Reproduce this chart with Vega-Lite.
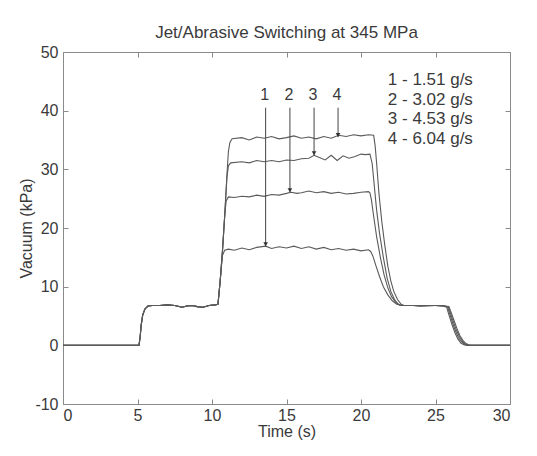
{
  "$schema": "https://vega.github.io/schema/vega-lite/v6.json",
  "width": 447,
  "height": 352,
  "autosize": "none",
  "padding": {"left": 63, "top": 52, "right": 27, "bottom": 52},
  "background": "white",
  "config": {
    "view": {"stroke": "#8a8a8a", "strokeWidth": 1},
    "font": "Liberation Sans",
    "text": {"font": "Liberation Sans"}
  },
  "title": {
    "text": "Jet/Abrasive Switching at 345 MPa",
    "fontSize": 17,
    "fontWeight": "normal",
    "color": "#3a3a3a",
    "font": "Liberation Sans",
    "offset": 2
  },
  "datasets": {
    "curves": [
      {"c":4,"t":0,"v":0},{"c":4,"t":5.1,"v":0},{"c":4,"t":5.18,"v":1.5},{"c":4,"t":5.25,"v":3.5},{"c":4,"t":5.35,"v":5.2},{"c":4,"t":5.5,"v":6.2},{"c":4,"t":5.7,"v":6.7},{"c":4,"t":6.0,"v":6.8},{"c":4,"t":6.5,"v":6.8},{"c":4,"t":7.0,"v":6.9},{"c":4,"t":7.5,"v":6.8},{"c":4,"t":8.0,"v":6.5},{"c":4,"t":8.3,"v":6.7},{"c":4,"t":8.7,"v":6.8},{"c":4,"t":9.0,"v":6.6},{"c":4,"t":9.4,"v":6.5},{"c":4,"t":9.8,"v":6.8},{"c":4,"t":10.2,"v":6.9},{"c":4,"t":10.4,"v":7.0},{"c":4,"t":10.55,"v":11},{"c":4,"t":10.7,"v":16},
      {"c":4,"t":10.85,"v":22},{"c":4,"t":11.0,"v":29},{"c":4,"t":11.1,"v":33},{"c":4,"t":11.2,"v":34.6},{"c":4,"t":11.35,"v":35.2},{"c":4,"t":12,"v":35.4},{"c":4,"t":12.5,"v":35.0},{"c":4,"t":13,"v":35.5},{"c":4,"t":13.5,"v":35.3},{"c":4,"t":14,"v":35.6},{"c":4,"t":14.5,"v":35.2},{"c":4,"t":15,"v":35.4},{"c":4,"t":15.5,"v":35.7},{"c":4,"t":16,"v":35.3},{"c":4,"t":16.5,"v":35.5},{"c":4,"t":17,"v":35.2},{"c":4,"t":17.5,"v":35.6},{"c":4,"t":18,"v":35.3},{"c":4,"t":18.5,"v":35.8},{"c":4,"t":19,"v":35.6},{"c":4,"t":19.5,"v":35.9},{"c":4,"t":20,"v":35.7},{"c":4,"t":20.5,"v":35.9},{"c":4,"t":20.85,"v":35.8},
      {"c":4,"t":20.95,"v":34},{"c":4,"t":21.05,"v":31},{"c":4,"t":21.2,"v":26},{"c":4,"t":21.4,"v":21},{"c":4,"t":21.6,"v":17},{"c":4,"t":21.8,"v":13.5},{"c":4,"t":22.0,"v":11},{"c":4,"t":22.2,"v":9.2},{"c":4,"t":22.45,"v":7.8},{"c":4,"t":22.7,"v":7.0},{"c":4,"t":22.9,"v":6.8},{"c":4,"t":23.5,"v":6.8},{"c":4,"t":24,"v":6.7},{"c":4,"t":24.5,"v":6.8},{"c":4,"t":25,"v":6.8},{"c":4,"t":25.5,"v":6.7},{"c":4,"t":25.9,"v":6.6},{"c":4,"t":26.05,"v":5.6},{"c":4,"t":26.25,"v":4.2},{"c":4,"t":26.45,"v":2.8},{"c":4,"t":26.65,"v":1.6},{"c":4,"t":26.85,"v":0.8},{"c":4,"t":27.05,"v":0.3},{"c":4,"t":27.3,"v":0},{"c":4,"t":30,"v":0},

      {"c":3,"t":0,"v":0},{"c":3,"t":5.1,"v":0},{"c":3,"t":5.18,"v":1.5},{"c":3,"t":5.25,"v":3.5},{"c":3,"t":5.35,"v":5.2},{"c":3,"t":5.5,"v":6.2},{"c":3,"t":5.7,"v":6.7},{"c":3,"t":6.0,"v":6.8},{"c":3,"t":6.5,"v":6.8},{"c":3,"t":7.0,"v":6.9},{"c":3,"t":7.5,"v":6.8},{"c":3,"t":8.0,"v":6.5},{"c":3,"t":8.3,"v":6.7},{"c":3,"t":8.7,"v":6.8},{"c":3,"t":9.0,"v":6.6},{"c":3,"t":9.4,"v":6.5},{"c":3,"t":9.8,"v":6.8},{"c":3,"t":10.2,"v":6.9},{"c":3,"t":10.4,"v":7.0},{"c":3,"t":10.55,"v":11},{"c":3,"t":10.7,"v":16},
      {"c":3,"t":10.85,"v":22},{"c":3,"t":11.0,"v":28.5},{"c":3,"t":11.1,"v":30.6},{"c":3,"t":11.25,"v":31.1},{"c":3,"t":12,"v":31.3},{"c":3,"t":12.5,"v":31.1},{"c":3,"t":13,"v":31.5},{"c":3,"t":13.5,"v":31.3},{"c":3,"t":14,"v":31.5},{"c":3,"t":14.5,"v":31.3},{"c":3,"t":15,"v":31.6},{"c":3,"t":15.5,"v":31.5},{"c":3,"t":16,"v":31.8},{"c":3,"t":16.5,"v":31.9},{"c":3,"t":16.85,"v":32.4},{"c":3,"t":17.2,"v":32.0},{"c":3,"t":17.6,"v":31.6},{"c":3,"t":18.0,"v":32.4},{"c":3,"t":18.4,"v":31.5},{"c":3,"t":18.8,"v":32.3},{"c":3,"t":19.2,"v":31.9},{"c":3,"t":19.6,"v":32.2},{"c":3,"t":20,"v":32.6},{"c":3,"t":20.3,"v":32.5},{"c":3,"t":20.6,"v":32.6},
      {"c":3,"t":20.75,"v":31},{"c":3,"t":20.9,"v":27},{"c":3,"t":21.05,"v":23},{"c":3,"t":21.25,"v":19},{"c":3,"t":21.5,"v":15},{"c":3,"t":21.75,"v":11.5},{"c":3,"t":22.0,"v":9.2},{"c":3,"t":22.25,"v":7.8},{"c":3,"t":22.5,"v":7.0},{"c":3,"t":22.75,"v":6.8},{"c":3,"t":23.5,"v":6.8},{"c":3,"t":24,"v":6.8},{"c":3,"t":24.5,"v":6.7},{"c":3,"t":25,"v":6.8},{"c":3,"t":25.5,"v":6.8},{"c":3,"t":25.85,"v":6.6},{"c":3,"t":26.0,"v":5.5},{"c":3,"t":26.2,"v":4.0},{"c":3,"t":26.4,"v":2.6},{"c":3,"t":26.6,"v":1.5},{"c":3,"t":26.8,"v":0.7},{"c":3,"t":27.0,"v":0.2},{"c":3,"t":27.2,"v":0},{"c":3,"t":30,"v":0},

      {"c":2,"t":0,"v":0},{"c":2,"t":5.1,"v":0},{"c":2,"t":5.18,"v":1.5},{"c":2,"t":5.25,"v":3.5},{"c":2,"t":5.35,"v":5.2},{"c":2,"t":5.5,"v":6.2},{"c":2,"t":5.7,"v":6.7},{"c":2,"t":6.0,"v":6.8},{"c":2,"t":6.5,"v":6.8},{"c":2,"t":7.0,"v":6.9},{"c":2,"t":7.5,"v":6.8},{"c":2,"t":8.0,"v":6.5},{"c":2,"t":8.3,"v":6.7},{"c":2,"t":8.7,"v":6.8},{"c":2,"t":9.0,"v":6.6},{"c":2,"t":9.4,"v":6.5},{"c":2,"t":9.8,"v":6.8},{"c":2,"t":10.2,"v":6.9},{"c":2,"t":10.4,"v":7.0},{"c":2,"t":10.55,"v":11},{"c":2,"t":10.7,"v":16},
      {"c":2,"t":10.85,"v":22},{"c":2,"t":10.95,"v":24.6},{"c":2,"t":11.1,"v":25.3},{"c":2,"t":11.5,"v":25.2},{"c":2,"t":12,"v":25.4},{"c":2,"t":12.5,"v":25.3},{"c":2,"t":13,"v":25.6},{"c":2,"t":13.5,"v":25.4},{"c":2,"t":14,"v":25.7},{"c":2,"t":14.5,"v":25.6},{"c":2,"t":15,"v":25.9},{"c":2,"t":15.3,"v":26.1},{"c":2,"t":15.7,"v":25.9},{"c":2,"t":16,"v":26.0},{"c":2,"t":16.5,"v":26.3},{"c":2,"t":17,"v":26.0},{"c":2,"t":17.5,"v":26.2},{"c":2,"t":18,"v":25.9},{"c":2,"t":18.5,"v":26.1},{"c":2,"t":19,"v":25.8},{"c":2,"t":19.5,"v":25.9},{"c":2,"t":20,"v":26.1},{"c":2,"t":20.5,"v":26.2},{"c":2,"t":20.6,"v":26.0},
      {"c":2,"t":20.7,"v":24.8},{"c":2,"t":20.85,"v":22},{"c":2,"t":21.05,"v":18.5},{"c":2,"t":21.3,"v":15},{"c":2,"t":21.55,"v":12},{"c":2,"t":21.8,"v":9.8},{"c":2,"t":22.05,"v":8.3},{"c":2,"t":22.35,"v":7.3},{"c":2,"t":22.65,"v":6.8},{"c":2,"t":23.5,"v":6.8},{"c":2,"t":24,"v":6.7},{"c":2,"t":24.5,"v":6.8},{"c":2,"t":25,"v":6.8},{"c":2,"t":25.5,"v":6.7},{"c":2,"t":25.8,"v":6.6},{"c":2,"t":25.95,"v":5.4},{"c":2,"t":26.15,"v":3.8},{"c":2,"t":26.35,"v":2.4},{"c":2,"t":26.55,"v":1.3},{"c":2,"t":26.75,"v":0.6},{"c":2,"t":26.95,"v":0.2},{"c":2,"t":27.15,"v":0},{"c":2,"t":30,"v":0},

      {"c":1,"t":0,"v":0},{"c":1,"t":5.1,"v":0},{"c":1,"t":5.18,"v":1.5},{"c":1,"t":5.25,"v":3.5},{"c":1,"t":5.35,"v":5.2},{"c":1,"t":5.5,"v":6.2},{"c":1,"t":5.7,"v":6.7},{"c":1,"t":6.0,"v":6.8},{"c":1,"t":6.5,"v":6.8},{"c":1,"t":7.0,"v":6.9},{"c":1,"t":7.5,"v":6.8},{"c":1,"t":8.0,"v":6.5},{"c":1,"t":8.3,"v":6.7},{"c":1,"t":8.7,"v":6.8},{"c":1,"t":9.0,"v":6.6},{"c":1,"t":9.4,"v":6.5},{"c":1,"t":9.8,"v":6.8},{"c":1,"t":10.2,"v":6.9},{"c":1,"t":10.4,"v":7.0},{"c":1,"t":10.55,"v":11},{"c":1,"t":10.7,"v":15.3},
      {"c":1,"t":10.85,"v":16.2},{"c":1,"t":11.1,"v":16.4},{"c":1,"t":11.5,"v":16.2},{"c":1,"t":12,"v":16.6},{"c":1,"t":12.5,"v":16.3},{"c":1,"t":13,"v":16.7},{"c":1,"t":13.6,"v":16.9},{"c":1,"t":14,"v":16.5},{"c":1,"t":14.5,"v":16.8},{"c":1,"t":15,"v":16.6},{"c":1,"t":15.5,"v":16.9},{"c":1,"t":16,"v":16.5},{"c":1,"t":16.5,"v":16.8},{"c":1,"t":17,"v":16.4},{"c":1,"t":17.5,"v":16.7},{"c":1,"t":18,"v":16.3},{"c":1,"t":18.5,"v":16.5},{"c":1,"t":19,"v":16.2},{"c":1,"t":19.5,"v":16.4},{"c":1,"t":20,"v":16.1},{"c":1,"t":20.5,"v":16.3},{"c":1,"t":20.65,"v":16.0},
      {"c":1,"t":20.8,"v":15.2},{"c":1,"t":21.0,"v":13.6},{"c":1,"t":21.25,"v":11.7},{"c":1,"t":21.5,"v":10.0},{"c":1,"t":21.8,"v":8.6},{"c":1,"t":22.1,"v":7.6},{"c":1,"t":22.4,"v":7.0},{"c":1,"t":22.7,"v":6.8},{"c":1,"t":23.5,"v":6.8},{"c":1,"t":24,"v":6.7},{"c":1,"t":24.5,"v":6.8},{"c":1,"t":25,"v":6.8},{"c":1,"t":25.5,"v":6.7},{"c":1,"t":25.75,"v":6.5},{"c":1,"t":25.9,"v":5.2},{"c":1,"t":26.1,"v":3.6},{"c":1,"t":26.3,"v":2.2},{"c":1,"t":26.5,"v":1.1},{"c":1,"t":26.7,"v":0.4},{"c":1,"t":26.9,"v":0.1},{"c":1,"t":27.1,"v":0},{"c":1,"t":30,"v":0}
    ],
    "arrows": [
      {"n":"1","t":13.6,"tip":16.9},
      {"n":"2","t":15.23,"tip":26.1},
      {"n":"3","t":16.85,"tip":32.4},
      {"n":"4","t":18.46,"tip":35.5}
    ],
    "legend": [
      {"label":"1 - 1.51 g/s","v":45.3},
      {"label":"2 - 3.02 g/s","v":41.9},
      {"label":"3 - 4.53 g/s","v":38.5},
      {"label":"4 - 6.04 g/s","v":35.1}
    ]
  },
  "layer": [
    {
      "data": {"name": "curves"},
      "mark": {"type": "line", "color": "#5a5a5a", "strokeWidth": 1.1},
      "encoding": {
        "x": {
          "field": "t", "type": "quantitative",
          "scale": {"domain": [0, 30], "nice": false, "zero": false},
          "axis": {
            "orient": "bottom", "values": [0, 5, 10, 15, 20, 25, 30],
            "domain": false, "grid": false, "tickSize": -5, "tickColor": "#8a8a8a",
            "labelFontSize": 16, "labelColor": "#3a3a3a", "labelFont": "Liberation Sans", "labelPadding": 8,
            "title": "Time (s)", "titleFontSize": 16, "titleFontWeight": "normal", "titleColor": "#3a3a3a",
            "titleFont": "Liberation Sans", "titlePadding": 0
          }
        },
        "y": {
          "field": "v", "type": "quantitative",
          "scale": {"domain": [-10, 50], "nice": false, "zero": false},
          "axis": {
            "orient": "left", "values": [-10, 0, 10, 20, 30, 40, 50],
            "labelExpr": "datum.value < 0 ? '-' + abs(datum.value) : datum.label",
            "domain": false, "grid": false, "tickSize": -5, "tickColor": "#8a8a8a",
            "labelFontSize": 16, "labelColor": "#3a3a3a", "labelFont": "Liberation Sans", "labelPadding": 10,
            "title": "Vacuum (kPa)", "titleFontSize": 16, "titleFontWeight": "normal", "titleColor": "#3a3a3a",
            "titleFont": "Liberation Sans", "titlePadding": 0
          }
        },
        "detail": {"field": "c", "type": "nominal"}
      }
    },
    {
      "data": {"name": "arrows"},
      "mark": {"type": "rule", "color": "#444", "strokeWidth": 1},
      "encoding": {
        "x": {
          "field": "t", "type": "quantitative",
          "axis": {"orient": "top", "values": [0, 5, 10, 15, 20, 25, 30], "labels": false, "domain": false, "grid": false, "tickSize": -5, "tickColor": "#8a8a8a", "title": null}
        },
        "y": {
          "field": "tip", "type": "quantitative",
          "axis": {"orient": "right", "values": [-10, 0, 10, 20, 30, 40, 50], "labels": false, "domain": false, "grid": false, "tickSize": -5, "tickColor": "#8a8a8a", "title": null}
        },
        "y2": {"datum": 40.5}
      }
    },
    {
      "data": {"name": "arrows"},
      "mark": {"type": "point", "shape": "triangle-down", "filled": true, "color": "#333", "size": 22, "opacity": 1, "yOffset": -2},
      "encoding": {
        "x": {"field": "t", "type": "quantitative", "axis": null},
        "y": {"field": "tip", "type": "quantitative", "axis": null}
      }
    },
    {
      "data": {"name": "arrows"},
      "mark": {"type": "text", "fontSize": 16, "color": "#3a3a3a", "font": "Liberation Sans", "align": "center", "baseline": "middle", "dx": -1},
      "encoding": {
        "x": {"field": "t", "type": "quantitative", "axis": null},
        "y": {"datum": 42.6, "axis": null},
        "text": {"field": "n"}
      }
    },
    {
      "data": {"name": "legend"},
      "mark": {"type": "text", "fontSize": 17, "color": "#3a3a3a", "font": "Liberation Sans", "align": "left", "baseline": "middle"},
      "encoding": {
        "x": {"datum": 21.8, "axis": null},
        "y": {"field": "v", "type": "quantitative", "axis": null},
        "text": {"field": "label"}
      }
    }
  ],
  "resolve": {"axis": {"x": "independent", "y": "independent"}}
}
